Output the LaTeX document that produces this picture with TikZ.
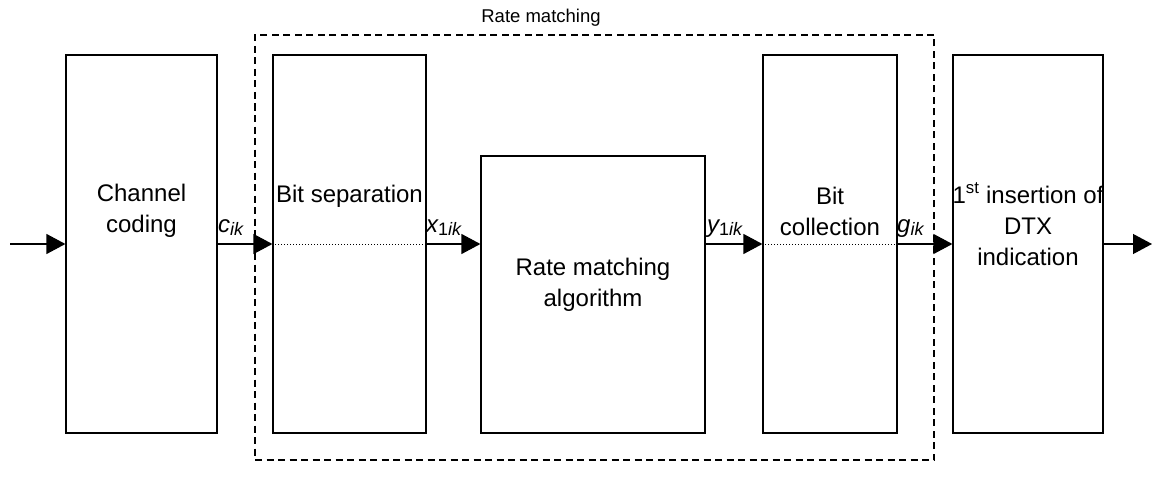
\documentclass[tikz,border=0pt]{standalone}
\usepackage{fontspec}
\setmainfont{Liberation Sans}
\usetikzlibrary{arrows.meta}
\begin{document}
\begin{tikzpicture}[x=1pt,y=-1pt,
  blk/.style={draw,line width=1.2pt,rectangle,inner sep=0pt},
  txt/.style={align=center,inner sep=0pt,font=\fontsize{24}{31}\selectfont},
  lbl/.style={inner sep=0pt,anchor=base west,font=\fontsize{24}{31}\selectfont},
  conn/.style={line width=1.2pt,-{Triangle[length=19pt,width=20pt]}},
  dotln/.style={line width=1pt,dash pattern=on 1pt off 2pt},
  dashbox/.style={draw,line width=1.3pt,dash pattern=on 7pt off 4.5pt,rectangle,inner sep=0pt}]
\newcommand{\sbs}[1]{\raisebox{-3pt}{\fontsize{18}{18}\selectfont #1}}
\useasboundingbox (0,0) rectangle (1152,492);
% dashed rate matching box
\node[dashbox,minimum width=679pt,minimum height=425pt] (rm) at (594.5,247.5) {};
\node[inner sep=0pt,anchor=base,font=\fontsize{18.5}{22}\selectfont] (rmlabel) at (541,23) {Rate matching};
% blocks
\node[blk,minimum width=151pt,minimum height=378pt] (cc) at (141.5,244) {};
\node[blk,minimum width=153pt,minimum height=378pt] (bs) at (349.5,244) {};
\node[blk,minimum width=224pt,minimum height=277pt] (rma) at (593,294.5) {};
\node[blk,minimum width=134pt,minimum height=378pt] (bc) at (830,244) {};
\node[blk,minimum width=150pt,minimum height=378pt] (dtx) at (1028,244) {};
% texts (base anchor = baseline of last line)
\node[txt,anchor=base] (cct) at (141.5,233) {Channel\\coding};
\node[txt,anchor=base] (bst) at (349.5,203) {Bit separation};
\node[txt,anchor=base] (rmat) at (593,306) {Rate matching\\algorithm};
\node[txt,anchor=base] (bct) at (830,235) {Bit\\collection};
\node[txt,anchor=base] (dtxt) at (1028,265) {1\textsuperscript{st} insertion of\\DTX\\indication};
% labels
\node[lbl] (lc) at (218,233) {\itshape c\sbs{ik}};
\node[lbl] (lx) at (426,233) {\itshape x\sbs{\upshape 1\itshape ik}};
\node[lbl] (ly) at (707,233) {\itshape y\sbs{\upshape 1\itshape ik}};
\node[lbl] (lg) at (897,233) {\itshape g\sbs{ik}};
% connectors
\coordinate (in) at (10,244);
\coordinate (out) at (1152,244);
\draw[conn] (in) -- (cc.west);
\draw[conn] (cc.east) -- (bs.west);
\draw[conn] (bs.east) -- (bs.east -| rma.west);
\draw[conn] (bs.east -| rma.east) -- (bc.west);
\draw[conn] (bc.east) -- (dtx.west);
\draw[conn] (dtx.east) -- (out);
\draw[dotln] (bs.west) -- (bs.east);
\draw[dotln] (bc.west) -- (bc.east);
\end{tikzpicture}
\end{document}
